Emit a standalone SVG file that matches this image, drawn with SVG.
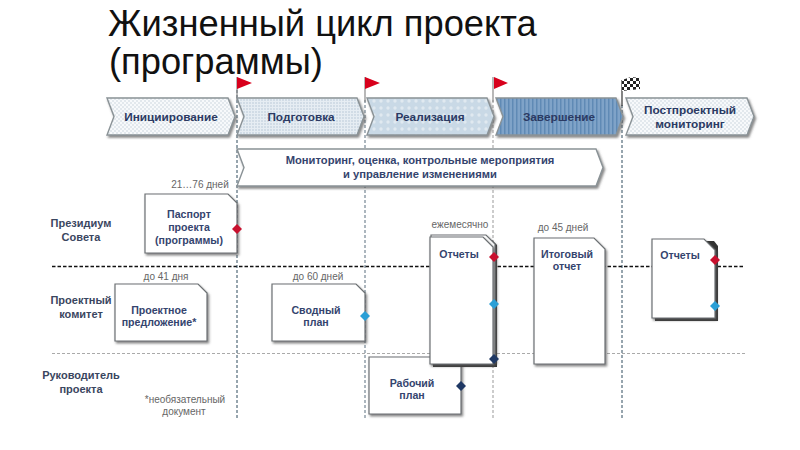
<svg xmlns="http://www.w3.org/2000/svg" width="800" height="450" viewBox="0 0 800 450">
<style>
.t{font-family:"Liberation Sans",Arial,sans-serif;fill:#111}
.h{font-family:"Liberation Sans",Arial,sans-serif;font-weight:bold;font-size:11.800px;fill:#2b3a63;text-anchor:middle}
.r{font-family:"Liberation Sans",Arial,sans-serif;font-weight:bold;font-size:11px;fill:#3a4660;text-anchor:middle}
.n{font-family:"Liberation Sans",Arial,sans-serif;font-size:10px;fill:#666;text-anchor:middle}
.b{font-family:"Liberation Sans",Arial,sans-serif;font-weight:bold;font-size:10.600px;fill:#34446e;text-anchor:middle}
.m{font-family:"Liberation Sans",Arial,sans-serif;font-weight:bold;font-size:11.200px;fill:#34446e;text-anchor:middle}
.c{stroke:#8a9296;stroke-width:1.4;filter:url(#sh)}
.d{fill:#fff;stroke:#6b6f72;stroke-width:1.2;filter:url(#sh)}
.v{fill:none;stroke:#2f4a5c;stroke-width:1;stroke-dasharray:3 2}
</style>
<defs>
<filter id="sh" x="-10%" y="-10%" width="125%" height="125%"><feDropShadow dx="1.500" dy="2" stdDeviation="1" flood-color="#555" flood-opacity=".7"/></filter>
<pattern id="dots" width="4" height="4" patternUnits="userSpaceOnUse"><rect width="4" height="4" fill="#f7f9fb"/><circle cx="1" cy="1" r=".7" fill="#bfcad4"/><circle cx="3" cy="3" r=".7" fill="#bfcad4"/></pattern>
<pattern id="dense" width="3" height="3" patternUnits="userSpaceOnUse"><rect width="3" height="3" fill="#e6edf3"/><circle cx="1" cy="1" r=".8" fill="#b8c8d6"/></pattern>
<pattern id="big" width="7" height="7" patternUnits="userSpaceOnUse"><rect width="7" height="7" fill="#c9d9e6"/><circle cx="3" cy="3" r="1.7" fill="#e0e9f0"/></pattern>
<pattern id="stripe" width="4" height="4" patternUnits="userSpaceOnUse"><rect width="4" height="4" fill="#7fa3c8"/><rect width="1.500" height="4" fill="#5f8ab5"/></pattern>
<pattern id="chk" width="6" height="6" patternUnits="userSpaceOnUse"><rect width="6" height="6" fill="#fff"/><rect width="3" height="3" fill="#222"/><rect x="3" y="3" width="3" height="3" fill="#222"/></pattern>
</defs>
<rect width="800" height="450" fill="#fff"/>
<text class="t" x="108" y="36" font-size="36.300">Жизненный цикл проекта</text>
<text class="t" x="109" y="74" font-size="36.300">(программы)</text>

<g id="connectors">
<path d="M52 266.500H745" fill="none" stroke="#111" stroke-width="1.400" stroke-dasharray="3.500 2"/>
<path d="M52 353.500H745" fill="none" stroke="#aaa" stroke-width="1" stroke-dasharray="3 2"/>
<path class="v" d="M237 90V420"/>
<path class="v" d="M365 100V420" stroke-opacity=".8"/>
<path d="M493 100V420" fill="none" stroke="#999" stroke-width="1" stroke-dasharray="3 2"/>
<path class="v" d="M622 105V418"/>
</g>

<g id="flags">
<path d="M237 77V100M365 77V102M493 77V102" stroke="#8a8a8a" stroke-width="1.200"/>
<path d="M237 77L252 83L237 89ZM365 77L380 83L365 89ZM494 77L508 83L494 89Z" fill="#d8001c"/>
<path d="M622 80V106" stroke="#333" stroke-width="1.200"/>
<path d="M622 80L631 77L640 78L640 89L631 90L622 91Z" fill="url(#chk)"/>
</g>

<g id="phase-init"><path class="c" fill="url(#dots)" d="M107 98H228L235 116.500L228 135H107L114 116.500Z"/><text class="h" x="171" y="120.500">Инициирование</text></g>
<g id="phase-prep"><path class="c" fill="url(#dense)" d="M237 98H357L364 116.500L357 135H237L244 116.500Z"/><text class="h" x="301" y="120.500">Подготовка</text></g>
<g id="phase-impl"><path class="c" fill="url(#big)" d="M367 98H487L494 116.500L487 135H367L374 116.500Z"/><text class="h" x="430" y="120.500">Реализация</text></g>
<g id="phase-end"><path class="c" fill="url(#stripe)" d="M496 98H616L623 116.500L616 135H496L503 116.500Z"/><text class="h" x="559" y="120.500">Завершение</text></g>
<g id="phase-post"><path class="c" fill="url(#dots)" d="M626 98H747L754 116.500L747 135H626L633 116.500Z"/><text class="h" x="690" y="114">Постпроектный</text><text class="h" x="690" y="128">мониторинг</text></g>

<g id="monitoring"><path class="c" fill="#fff" d="M237 149H596L603 167.500L596 186H237L244 167.500Z"/><text class="m" x="420" y="164">Мониторинг, оценка, контрольные мероприятия</text><text class="m" x="420" y="178">и управление изменениями</text></g>

<g id="role-1"><text class="r" x="81" y="227">Президиум</text><text class="r" x="81" y="241">Совета</text></g>
<g id="role-2"><text class="r" x="81" y="304">Проектный</text><text class="r" x="81" y="318">комитет</text></g>
<g id="role-3"><text class="r" x="81" y="379">Руководитель</text><text class="r" x="81" y="393">проекта</text></g>

<g id="note-1"><text class="n" x="200" y="188">21…76 дней</text></g>
<g id="note-2"><text class="n" x="166" y="280">до 41 дня</text></g>
<g id="note-3"><text class="n" x="318" y="280">до 60 дней</text></g>
<g id="note-4"><text class="n" x="460" y="228">ежемесячно</text></g>
<g id="note-5"><text class="n" x="563" y="231">до 45 дней</text></g>
<g id="note-6"><text class="n" x="185" y="403">*необязательный</text><text class="n" x="184" y="415">документ</text></g>

<g id="doc-passport"><path class="d" d="M145 194H228L237 203V253H145Z"/><text class="b" x="189" y="218">Паспорт</text><text class="b" x="189" y="231">проекта</text><text class="b" x="189" y="243.500">(программы)</text></g>
<g id="doc-proposal"><path class="d" d="M115 284H198L207 293V341H115Z"/><text class="b" x="159" y="314">Проектное</text><text class="b" x="159" y="326">предложение*</text></g>
<g id="doc-summary"><path class="d" d="M272 284H356L365 293V341H272Z"/><text class="b" x="316" y="314">Сводный</text><text class="b" x="316" y="326">план</text></g>
<g id="doc-work"><path class="d" d="M369 357H461V414H369Z"/><text class="b" x="412" y="387">Рабочий</text><text class="b" x="412" y="399">план</text></g>
<g id="doc-reports"><path d="M433 240H492L497 245V367H433Z" fill="#333"/><path class="d" d="M431 235H486L495 244V362H431Z"/><path class="d" d="M430 237H483L493 247V364H430Z"/><text class="b" x="459" y="258">Отчеты</text></g>
<g id="doc-final"><path class="d" d="M534 238H594L605 249V364H534Z"/><text class="b" x="567" y="258">Итоговый</text><text class="b" x="567" y="270">отчет</text></g>
<g id="doc-reports2"><path d="M655 241H714L718 246V321H655Z" fill="#333"/><path class="d" d="M652 239H704L715 250V318H652Z"/><text class="b" x="680" y="259">Отчеты</text></g>

<g id="markers">
<path d="M237 224L242 229L237 234L232 229Z" fill="#c8102e"/>
<path d="M365 311L370 316L365 321L360 316Z" fill="#2a9fd6"/>
<path d="M494 252L499 257L494 262L489 257Z" fill="#c8102e"/>
<path d="M494 299L499 304L494 309L489 304Z" fill="#2a9fd6"/>
<path d="M494 354L499 359L494 364L489 359Z" fill="#1f3864"/>
<path d="M461 381L466 386L461 391L456 386Z" fill="#1f3864"/>
<path d="M715 255L720 260L715 265L710 260Z" fill="#c8102e"/>
<path d="M715 301L720 306L715 311L710 306Z" fill="#2a9fd6"/>
</g>
</svg>
